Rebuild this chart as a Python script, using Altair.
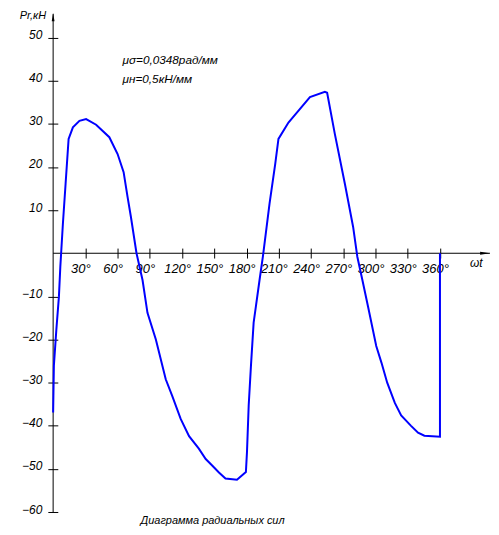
import altair as alt
import pandas as pd

# ---- data ----
angles = [0, 0.7, 3, 5.4, 6.7, 9.1, 11.6, 14.4, 18.4, 24.5, 30.7, 40, 52.3, 60, 65.6,
          69.3, 72.4, 77.6, 83.2, 87.8, 95.6, 104.8, 110.9, 118.7, 126.5, 135.6, 142,
          148, 154.3, 160.4, 171.1, 179.4, 180.4, 182, 184.1, 186.6, 192.1, 195.2,
          201.4, 206.7, 209.7, 219, 228.2, 239, 252.9, 255, 262.2, 271.5, 279.2,
          283.1, 287.8, 293, 300.7, 305.6, 310.9, 318, 323.9, 333.1, 339.6, 345.5,
          360, 360]
forces = [-36.9, -26, -17.7, -10, -3.1, 6.9, 16.1, 26.5, 29.2, 30.7, 31.1, 29.8, 26.9,
          23, 18.8, 13, 8.4, 0, -6.2, -13.8, -20, -29.2, -33.1, -38.4, -42.4, -45.3,
          -47.7, -49.2, -50.8, -52.2, -52.5, -50.7, -46.1, -35.3, -26.1, -16.1, -6.2,
          -0.8, 11.5, 20.7, 26.5, 30.3, 33, 36.2, 37.4, 37.2, 27.6, 16.1, 6.1, -0.8,
          -6.2, -12.3, -21.5, -25.4, -30, -34.7, -37.6, -40, -41.6, -42.3, -42.5, 0]

x_ticks = [30, 60, 90, 120, 150, 180, 210, 240, 270, 300, 330, 360]
y_ticks = [50, 40, 30, 20, 10, -10, -20, -30, -40, -50, -60]

y_title = "Pr,кН"
x_title = "ωt"
chart_title = "Диаграмма радиальных сил"
note_lines = ["μσ=0,0348рад/мм", "μн=0,5кН/мм"]

X_DOMAIN = [-42, 407.5]
Y_DOMAIN = [-63.2, 56.6]
FONT = "Liberation Sans"

curve = pd.DataFrame({"angle": angles, "force": forces, "idx": list(range(len(angles)))})

xs = alt.Scale(domain=X_DOMAIN, nice=False, zero=False)
ys = alt.Scale(domain=Y_DOMAIN, nice=False, zero=False)

x_axis = alt.Axis(values=x_ticks, orient="bottom", offset=-279, domain=False, grid=False,
                  tickSize=10, tickColor="black", tickWidth=1,
                  labelExpr="datum.value + '°'", labelFont=FONT, labelFontSize=13,
                  labelFontStyle="italic", labelColor="black", labelPadding=5, labelOffset=-5,
                  labelOverlap=False, labelFlush=False, title=None)
y_axis = alt.Axis(values=y_ticks, orient="left", offset=-50, domain=False, grid=False,
                  tickSize=10, tickColor="black", tickWidth=1,
                  labelFont=FONT, labelFontSize=12, labelFontStyle="italic",
                  labelColor="black", labelPadding=6, labelOffset=-3,
                  labelOverlap=False, labelFlush=False, title=None)

X = lambda f: alt.X(f, type="quantitative", scale=xs, axis=x_axis)
Y = lambda f: alt.Y(f, type="quantitative", scale=ys, axis=y_axis)

line = alt.Chart(curve).mark_line(color="#0000ff", strokeWidth=2).encode(
    x=X("angle"), y=Y("force"), order=alt.Order("idx:Q")
)

xaxis_df = pd.DataFrame({"a": [0], "a2": [406.5], "v": [0]})
xaxis_rule = alt.Chart(xaxis_df).mark_rule(color="black", strokeWidth=1).encode(
    x=X("a"), x2="a2", y=Y("v")
)
yaxis_df = pd.DataFrame({"a": [0], "v": [-60], "v2": [55.5]})
yaxis_rule = alt.Chart(yaxis_df).mark_rule(color="black", strokeWidth=1).encode(
    x=X("a"), y=Y("v"), y2="v2"
)

arrow_up = alt.Chart(pd.DataFrame({"a": [0], "v": [54.7]})).mark_point(
    shape="M0,-1L0.35,1L-0.35,1Z", size=64, filled=True, color="black", opacity=1
).encode(x=X("a"), y=Y("v"))
arrow_right = alt.Chart(pd.DataFrame({"a": [402], "v": [0]})).mark_point(
    shape="M1,0L-1,-0.3L-1,0.3Z", size=100, filled=True, color="black", opacity=1
).encode(x=X("a"), y=Y("v"))

notes_df = pd.DataFrame({"a": [64.6, 64.6], "v": [44.9, 40.4], "t": note_lines})
notes = alt.Chart(notes_df).mark_text(
    align="left", baseline="middle", font=FONT, fontSize=11.8, fontStyle="italic", color="black"
).encode(x=X("a"), y=Y("v"), text="t:N")

ytitle = alt.Chart(pd.DataFrame({"a": [-6.5], "v": [56.4], "t": [y_title]})).mark_text(
    align="right", baseline="top", font=FONT, fontSize=11, fontStyle="italic", color="black"
).encode(x=X("a"), y=Y("v"), text="t:N")

xtitle = alt.Chart(pd.DataFrame({"a": [388], "v": [-2.3], "t": [x_title]})).mark_text(
    align="left", baseline="middle", font=FONT, fontSize=12, fontStyle="italic", color="black"
).encode(x=X("a"), y=Y("v"), text="t:N")

ctitle = alt.Chart(pd.DataFrame({"a": [148.4], "v": [-63.1], "t": [chart_title]})).mark_text(
    align="center", baseline="bottom", font=FONT, fontSize=11, fontStyle="italic", color="black"
).encode(x=X("a"), y=Y("v"), text="t:N")

chart = alt.layer(
    xaxis_rule, yaxis_rule, arrow_up, arrow_right, line, notes, ytitle, xtitle, ctitle
).properties(
    width=485, height=519, autosize=alt.AutoSizeParams(type="none"), padding=0,
    background="white"
).configure_view(stroke=None)

chart.save("out.html", embed_options={"renderer": "svg", "actions": False})
